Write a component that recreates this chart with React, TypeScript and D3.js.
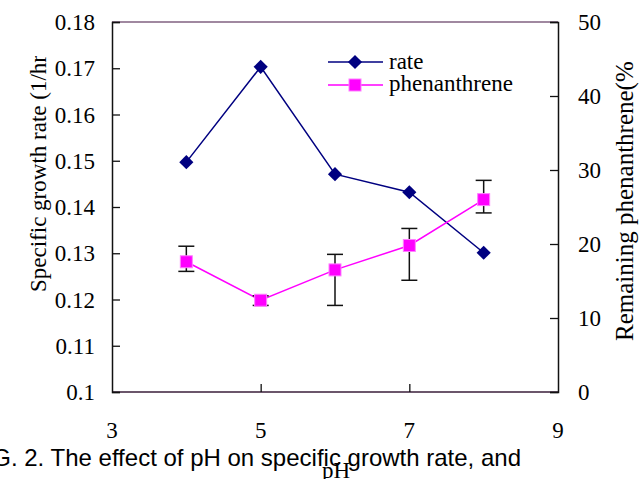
import { useEffect, useRef } from 'react'
import * as d3 from 'd3'

const phValues = [4, 5, 6, 7, 8]
const rateValues = [0.1497, 0.1703, 0.1471, 0.1432, 0.1301]
const phenValues = [17.6, 12.4, 16.5, 19.8, 26.0]
const phenLow = [16.3, 11.7, 11.7, 15.1, 24.2]
const phenHigh = [19.7, 13.0, 18.6, 22.1, 28.6]
const xTicks = [3, 5, 7, 9]
const leftTicks = [0.1, 0.11, 0.12, 0.13, 0.14, 0.15, 0.16, 0.17, 0.18]
const rightTicks = [0, 10, 20, 30, 40, 50]

export default function App() {
  const svgRef = useRef<SVGSVGElement>(null)

  useEffect(() => {
    const el = svgRef.current
    if (!el) return
    const width = 639
    const height = 479
    const left = 112, right = 558, top = 22, bottom = 392
    const serif = '"Liberation Serif", "Times New Roman", serif'
    const fs = 23

    const x = d3.scaleLinear().domain([3, 9]).range([left, right])
    const yL = d3.scaleLinear().domain([0.1, 0.18]).range([bottom, top])
    const yR = d3.scaleLinear().domain([0, 50]).range([bottom, top])

    const svg = d3.select(el)
    svg.selectAll('*').remove()
    svg.append('rect').attr('width', width).attr('height', height).attr('fill', '#fff')

    const defs = svg.append('defs')
    defs.append('clipPath').attr('id', 'lab-left')
      .append('rect').attr('x', 0).attr('y', 56).attr('width', 70).attr('height', 400)
    defs.append('clipPath').attr('id', 'lab-right')
      .append('rect').attr('x', 605).attr('y', 62).attr('width', 40).attr('height', 400)

    // frame: top & bottom purple-ish, sides black
    svg.append('line').attr('x1', left).attr('x2', right).attr('y1', top).attr('y2', top)
      .attr('stroke', '#806080').attr('stroke-width', 1.5)
    svg.append('line').attr('x1', left).attr('x2', right).attr('y1', bottom).attr('y2', bottom)
      .attr('stroke', '#3a1e3a').attr('stroke-width', 1.5)

    // left axis
    svg.append('g').attr('transform', `translate(${left},0)`)
      .call(d3.axisRight(yL).tickValues(leftTicks).tickSize(8).tickFormat(() => ''))
      .call(ax => ax.select('.domain').attr('stroke', '#111').attr('stroke-width', 1.5))
      .call(ax => ax.selectAll('.tick line').attr('stroke', '#111').attr('stroke-width', 1.3))
    svg.append('g').selectAll('text').data(leftTicks).join('text')
      .attr('x', 95).attr('y', d => yL(d) + 8)
      .attr('text-anchor', 'end')
      .attr('font-family', serif).attr('font-size', fs).attr('fill', '#000')
      .text(d => String(d))

    // right axis
    svg.append('g').attr('transform', `translate(${right},0)`)
      .call(d3.axisLeft(yR).tickValues(rightTicks).tickSize(8).tickFormat(() => ''))
      .call(ax => ax.select('.domain').attr('stroke', '#111').attr('stroke-width', 1.5))
      .call(ax => ax.selectAll('.tick line').attr('stroke', '#111').attr('stroke-width', 1.3))
    svg.append('g').selectAll('text').data(rightTicks).join('text')
      .attr('x', 578).attr('y', d => yR(d) + 8)
      .attr('font-family', serif).attr('font-size', fs).attr('fill', '#000')
      .text(d => String(d))

    // bottom ticks (inward)
    svg.append('g').attr('transform', `translate(0,${bottom})`)
      .call(d3.axisTop(x).tickValues([5, 7]).tickSize(8).tickFormat(() => ''))
      .call(ax => ax.select('.domain').remove())
      .call(ax => ax.selectAll('.tick line').attr('stroke', '#111').attr('stroke-width', 1.3))
    svg.append('g').selectAll('text').data(xTicks).join('text')
      .attr('x', d => x(d)).attr('y', 438)
      .attr('text-anchor', 'middle')
      .attr('font-family', serif).attr('font-size', fs).attr('fill', '#000')
      .text(d => String(d))

    // axis titles (clipped at the top like the source figure)
    svg.append('g').attr('clip-path', 'url(#lab-left)')
      .append('text')
      .attr('transform', 'translate(46,292) rotate(-90)')
      .attr('font-family', serif).attr('font-size', fs).attr('fill', '#000')
      .text('Specific growth rate (1/hr)')
    svg.append('g').attr('clip-path', 'url(#lab-right)')
      .append('text')
      .attr('transform', 'translate(633,341) rotate(-90)')
      .attr('font-family', serif).attr('font-size', 25).attr('fill', '#000')
      .text('Remaining phenanthrene(%)')

    // rate series
    const rateData = phValues.map((p, i) => ({ p, v: rateValues[i] }))
    svg.append('path').datum(rateData)
      .attr('d', d3.line<{ p: number; v: number }>().x(d => x(d.p)).y(d => yL(d.v)))
      .attr('fill', 'none').attr('stroke', '#000080').attr('stroke-width', 1.5)
    const diamond = d3.symbol().type(d3.symbolSquare).size(100)
    svg.append('g').selectAll('path').data(rateData).join('path')
      .attr('d', diamond)
      .attr('transform', d => `translate(${x(d.p)},${yL(d.v)}) rotate(45)`)
      .attr('fill', '#000080')

    // phenanthrene series with error bars
    const phenData = phValues.map((p, i) => ({ p, v: phenValues[i], lo: phenLow[i], hi: phenHigh[i] }))
    svg.append('path').datum(phenData)
      .attr('d', d3.line<{ p: number; v: number }>().x(d => x(d.p)).y(d => yR(d.v)))
      .attr('fill', 'none').attr('stroke', '#ff00ff').attr('stroke-width', 1.5)
    const eb = svg.append('g').attr('stroke', '#111').attr('stroke-width', 1.5)
    phenData.forEach(d => {
      const cx = x(d.p)
      eb.append('line').attr('x1', cx).attr('x2', cx).attr('y1', yR(d.hi)).attr('y2', yR(d.lo))
      eb.append('line').attr('x1', cx - 8).attr('x2', cx + 8).attr('y1', yR(d.hi)).attr('y2', yR(d.hi))
      eb.append('line').attr('x1', cx - 8).attr('x2', cx + 8).attr('y1', yR(d.lo)).attr('y2', yR(d.lo))
    })
    svg.append('g').selectAll('rect').data(phenData).join('rect')
      .attr('x', d => x(d.p) - 6).attr('y', d => yR(d.v) - 6)
      .attr('width', 12).attr('height', 12)
      .attr('fill', '#ff00ff').attr('stroke', '#ff80ff').attr('stroke-width', 1)

    // legend
    const lg = svg.append('g')
    lg.append('line').attr('x1', 328).attr('x2', 383).attr('y1', 62).attr('y2', 62)
      .attr('stroke', '#000080').attr('stroke-width', 1.5)
    lg.append('path').attr('d', diamond).attr('transform', 'translate(355,62) rotate(45)').attr('fill', '#000080')
    lg.append('text').attr('x', 389).attr('y', 69)
      .attr('font-family', serif).attr('font-size', fs).attr('fill', '#000').text('rate')
    lg.append('line').attr('x1', 328).attr('x2', 383).attr('y1', 85).attr('y2', 85)
      .attr('stroke', '#ff00ff').attr('stroke-width', 1.5)
    lg.append('rect').attr('x', 349).attr('y', 79).attr('width', 12).attr('height', 12)
      .attr('fill', '#ff00ff').attr('stroke', '#ff80ff')
    lg.append('text').attr('x', 389).attr('y', 91)
      .attr('font-family', serif).attr('font-size', fs).attr('fill', '#000').text('phenanthrene')

    // caption (left edge runs off the page like the source)
    svg.append('text').attr('x', 521).attr('y', 466).attr('text-anchor', 'end')
      .attr('font-family', '"Liberation Sans", Arial, sans-serif').attr('font-size', 24).attr('fill', '#000')
      .text('FIG. 2. The effect of pH on specific growth rate, and')
    svg.append('text').attr('x', 336).attr('y', 478).attr('text-anchor', 'middle')
      .attr('font-family', serif).attr('font-size', fs).attr('fill', '#000').text('pH')
  }, [])

  return (
    <svg
      ref={svgRef}
      width={639}
      height={479}
      style={{ position: 'fixed', left: 0, top: 0, display: 'block' }}
    />
  )
}
